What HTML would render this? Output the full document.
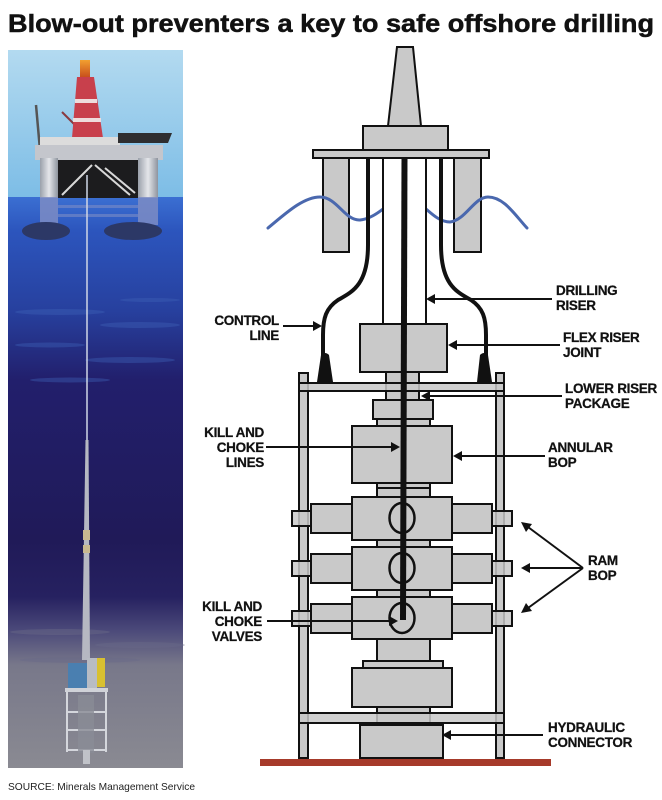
<!DOCTYPE html>
<html><head><meta charset="utf-8">
<style>
html,body{margin:0;padding:0;background:#fff;}
svg{display:block;}
.lb{font-family:"Liberation Sans",Arial,sans-serif;font-weight:bold;font-size:13.5px;letter-spacing:-0.3px;fill:#111;stroke:#111;stroke-width:0.25px;}
</style></head>
<body>
<svg width="662" height="800" viewBox="0 0 662 800" xmlns="http://www.w3.org/2000/svg">
<defs>
<linearGradient id="sky" x1="0" y1="0" x2="0" y2="1">
<stop offset="0" stop-color="#b3daf0"/><stop offset="1" stop-color="#7dbde6"/>
</linearGradient>
<linearGradient id="sea" x1="0" y1="0" x2="0" y2="1">
<stop offset="0" stop-color="#3b6fd2"/>
<stop offset="0.06" stop-color="#2c55bd"/>
<stop offset="0.2" stop-color="#27409e"/>
<stop offset="0.32" stop-color="#221f6c"/>
<stop offset="0.6" stop-color="#201a58"/>
<stop offset="0.7" stop-color="#262160"/>
<stop offset="0.76" stop-color="#4c4a7a"/>
<stop offset="0.82" stop-color="#78788a"/>
<stop offset="1" stop-color="#8a8a92"/>
</linearGradient>
<linearGradient id="col" x1="0" y1="0" x2="1" y2="0">
<stop offset="0" stop-color="#9aa0aa"/><stop offset="0.5" stop-color="#e4e6ea"/><stop offset="1" stop-color="#8e949e"/>
</linearGradient>
<linearGradient id="flare" x1="0" y1="0" x2="0" y2="1">
<stop offset="0" stop-color="#f2a030"/><stop offset="1" stop-color="#c8501c"/>
</linearGradient>
</defs>

<!-- Title -->
<text x="8" y="32" font-family="'Liberation Sans',Arial,sans-serif" font-weight="bold" font-size="25" fill="#111" stroke="#111" stroke-width="0.5" textLength="646" lengthAdjust="spacingAndGlyphs">Blow-out preventers a key to safe offshore drilling</text>

<!-- Photo -->
<rect x="8" y="50" width="175" height="147" fill="url(#sky)"/>
<rect x="8" y="197" width="175" height="571" fill="url(#sea)"/>
<g fill="#3f63b8" opacity="0.4">
<ellipse cx="60" cy="312" rx="45" ry="3"/>
<ellipse cx="140" cy="325" rx="40" ry="3"/>
<ellipse cx="50" cy="345" rx="35" ry="2.5"/>
<ellipse cx="130" cy="360" rx="45" ry="3"/>
<ellipse cx="70" cy="380" rx="40" ry="2.5"/>
<ellipse cx="150" cy="300" rx="30" ry="2"/>
</g>
<g fill="#6a6a88" opacity="0.45">
<ellipse cx="60" cy="632" rx="50" ry="3"/>
<ellipse cx="140" cy="645" rx="45" ry="3"/>
<ellipse cx="80" cy="660" rx="60" ry="3"/>
</g>
<!-- rig -->
<line x1="40" y1="150" x2="36" y2="105" stroke="#555" stroke-width="2.5"/>
<line x1="62" y1="112" x2="76" y2="126" stroke="#8a3a40" stroke-width="2"/>
<rect x="80" y="60" width="10" height="17" fill="url(#flare)"/>
<polygon points="77,77 94,77 103,138 72,138" fill="#c8404c"/>
<rect x="75" y="99" width="22" height="4" fill="#eedcdc"/>
<rect x="73" y="118" width="28" height="4" fill="#eedcdc"/>
<rect x="40" y="137" width="80" height="9" fill="#dcdcdc"/>
<polygon points="118,133 172,133 168,143 118,143" fill="#2e2e30"/>
<rect x="35" y="145" width="128" height="15" fill="#c4c6cc"/>
<rect x="40" y="160" width="118" height="38" fill="#1c1c1e"/>
<g stroke="#d8d8d8" stroke-width="2">
<line x1="62" y1="195" x2="92" y2="165"/>
<line x1="95" y1="165" x2="130" y2="195"/>
<line x1="105" y1="168" x2="135" y2="193"/>
</g>
<rect x="40" y="158" width="18" height="40" fill="url(#col)"/>
<rect x="138" y="158" width="20" height="40" fill="url(#col)"/>
<rect x="40" y="197" width="18" height="28" fill="#7c8cc4" opacity="0.85"/>
<rect x="138" y="197" width="20" height="28" fill="#7c8cc4" opacity="0.85"/>
<rect x="58" y="205" width="80" height="3" fill="#7c8cc4" opacity="0.6"/>
<rect x="58" y="214" width="80" height="3" fill="#7c8cc4" opacity="0.6"/>
<ellipse cx="46" cy="231" rx="24" ry="9" fill="#2c3866"/>
<ellipse cx="133" cy="231" rx="29" ry="9" fill="#2c3866"/>
<!-- riser -->
<line x1="87" y1="175" x2="87" y2="440" stroke="#cfd6e6" stroke-width="1.5"/>
<polygon points="85.5,440 88.5,440 90,660 82,660" fill="#b6b8c2"/>
<rect x="83" y="530" width="7" height="10" fill="#c8b890"/>
<rect x="83" y="545" width="7" height="8" fill="#c8b890"/>
<!-- BOP stack photo -->
<rect x="68" y="663" width="19" height="25" fill="#4a7fb0"/>
<rect x="87" y="658" width="10" height="30" fill="#b8bcc4"/>
<rect x="97" y="658" width="8" height="29" fill="#d8c030"/>
<rect x="65" y="688" width="43" height="4" fill="#d0d2d8"/>
<g stroke="#d4d6dc" stroke-width="2" fill="none">
<line x1="67" y1="692" x2="67" y2="752"/>
<line x1="106" y1="692" x2="106" y2="752"/>
<line x1="66" y1="712" x2="107" y2="712"/>
<line x1="66" y1="730" x2="107" y2="730"/>
<line x1="66" y1="750" x2="107" y2="750"/>
</g>
<rect x="78" y="695" width="16" height="58" fill="#8a8c96" opacity="0.8"/>
<rect x="83" y="750" width="7" height="14" fill="#c0c2c8"/>

<!-- Source -->
<text x="8" y="790" font-family="'Liberation Sans',Arial,sans-serif" font-size="10.5" fill="#222" textLength="187" lengthAdjust="spacingAndGlyphs">SOURCE: Minerals Management Service</text>

<!-- Diagram -->
<g stroke="#111" stroke-width="2" fill="#c9c9c9">
<polygon points="397,47 413,47 421,126 388,126"/>
<rect x="363" y="126" width="85" height="24"/>
<rect x="313" y="150" width="176" height="8"/>
<rect x="323" y="158" width="26" height="94"/>
<rect x="454" y="158" width="27" height="94"/>
</g>
<g stroke="#4a68ae" stroke-width="3" fill="none" stroke-linecap="round">
<path d="M268,228 C285,214 303,197 320,197 C337,197 345,221 360,220 C370,219 378,213 383,209"/>
<path d="M426,209 C432,214 440,222 450,222 C466,220 474,197 488,197 C504,197 515,215 527,228"/>
</g>
<rect x="383" y="158" width="43" height="166" fill="#fff" stroke="#111" stroke-width="2"/>
<g stroke="#111" stroke-width="4" fill="none">
<path d="M368,158 L368,245 C368,285 352,292 338,300 C326,308 323,318 323,335 L323,358"/>
<path d="M441,158 L441,245 C441,285 457,292 471,300 C483,308 486,318 486,335 L486,358"/>
</g>

<g stroke="#111" stroke-width="2" fill="#c9c9c9">
<rect x="360" y="324" width="87" height="48"/>
<rect x="299" y="373" width="9" height="385"/>
<rect x="496" y="373" width="8" height="385"/>
<rect x="386" y="372" width="33" height="28"/>
<rect x="299" y="383" width="205" height="8" fill-opacity="0.85"/>
<rect x="373" y="400" width="60" height="19"/>
<rect x="377" y="419" width="53" height="7"/>
<rect x="352" y="426" width="100" height="57"/>
<rect x="377" y="483" width="53" height="14"/>
<line x1="377" y1="488" x2="430" y2="488"/>
<rect x="292" y="511" width="19" height="15" fill-opacity="0.85"/>
<rect x="492" y="511" width="20" height="15" fill-opacity="0.85"/>
<rect x="311" y="504" width="41" height="29"/>
<rect x="452" y="504" width="40" height="29"/>
<rect x="352" y="497" width="100" height="43"/>
<rect x="377" y="540" width="53" height="7"/>
<rect x="292" y="561" width="19" height="15" fill-opacity="0.85"/>
<rect x="492" y="561" width="20" height="15" fill-opacity="0.85"/>
<rect x="311" y="554" width="41" height="29"/>
<rect x="452" y="554" width="40" height="29"/>
<rect x="352" y="547" width="100" height="43"/>
<rect x="377" y="590" width="53" height="7"/>
<rect x="292" y="611" width="19" height="15" fill-opacity="0.85"/>
<rect x="492" y="611" width="20" height="15" fill-opacity="0.85"/>
<rect x="311" y="604" width="41" height="29"/>
<rect x="452" y="604" width="40" height="29"/>
<rect x="352" y="597" width="100" height="42"/>
<rect x="377" y="639" width="53" height="22"/>
<rect x="363" y="661" width="80" height="7"/>
<rect x="352" y="668" width="100" height="39"/>
<rect x="377" y="707" width="53" height="18"/>
<rect x="299" y="713" width="205" height="10" fill-opacity="0.85"/>
<rect x="360" y="725" width="83" height="33"/>
</g>
<path d="M321,355 Q325,351 329,355 L333,382 L317,382 Z" fill="#111"/>
<path d="M480,355 Q484,351 488,355 L492,382 L477,382 Z" fill="#111"/>
<g stroke="#111" stroke-width="2.5" fill="none">
<ellipse cx="402" cy="518" rx="12.5" ry="15"/>
<ellipse cx="402" cy="568" rx="12.5" ry="15"/>
<ellipse cx="402" cy="618" rx="12.5" ry="15"/>
</g>
<line x1="404.5" y1="158" x2="403" y2="620" stroke="#111" stroke-width="6"/>
<rect x="260" y="759" width="291" height="7" fill="#a63a2a"/>

<g stroke="#111" stroke-width="2" fill="none">
<line x1="283" y1="326" x2="315" y2="326"/>
<line x1="552" y1="299" x2="432" y2="299"/>
<line x1="560" y1="345" x2="454" y2="345"/>
<line x1="562" y1="396" x2="427" y2="396"/>
<line x1="545" y1="456" x2="459" y2="456"/>
<line x1="266" y1="447" x2="393" y2="447"/>
<line x1="267" y1="621" x2="391" y2="621"/>
<line x1="543" y1="735" x2="448" y2="735"/>
<line x1="583" y1="568" x2="528" y2="527"/>
<line x1="583" y1="568" x2="528" y2="568"/>
<line x1="583" y1="568" x2="528" y2="608"/>
</g>
<g fill="#111">
<polygon points="322,326 313,321 313,331"/>
<polygon points="426,299 435,294 435,304"/>
<polygon points="448,345 457,340 457,350"/>
<polygon points="421,396 430,391 430,401"/>
<polygon points="453,456 462,451 462,461"/>
<polygon points="400,447 391,442 391,452"/>
<polygon points="398,621 389,616 389,626"/>
<polygon points="442,735 451,730 451,740"/>
<polygon points="521,522 532,524 526,532"/>
<polygon points="521,568 530,563 530,573"/>
<polygon points="521,613 532,611 526,603"/>
</g>

<g class="lb">
<text x="279" y="325" text-anchor="end">CONTROL</text>
<text x="279" y="340" text-anchor="end">LINE</text>
<text x="264" y="437" text-anchor="end">KILL AND</text>
<text x="264" y="452" text-anchor="end">CHOKE</text>
<text x="264" y="467" text-anchor="end">LINES</text>
<text x="262" y="611" text-anchor="end">KILL AND</text>
<text x="262" y="626" text-anchor="end">CHOKE</text>
<text x="262" y="641" text-anchor="end">VALVES</text>
<text x="556" y="295">DRILLING</text>
<text x="556" y="310">RISER</text>
<text x="563" y="342">FLEX RISER</text>
<text x="563" y="357">JOINT</text>
<text x="565" y="393">LOWER RISER</text>
<text x="565" y="408">PACKAGE</text>
<text x="548" y="452">ANNULAR</text>
<text x="548" y="467">BOP</text>
<text x="588" y="565">RAM</text>
<text x="588" y="580">BOP</text>
<text x="548" y="732">HYDRAULIC</text>
<text x="548" y="747">CONNECTOR</text>
</g>
</svg>
</body></html>
